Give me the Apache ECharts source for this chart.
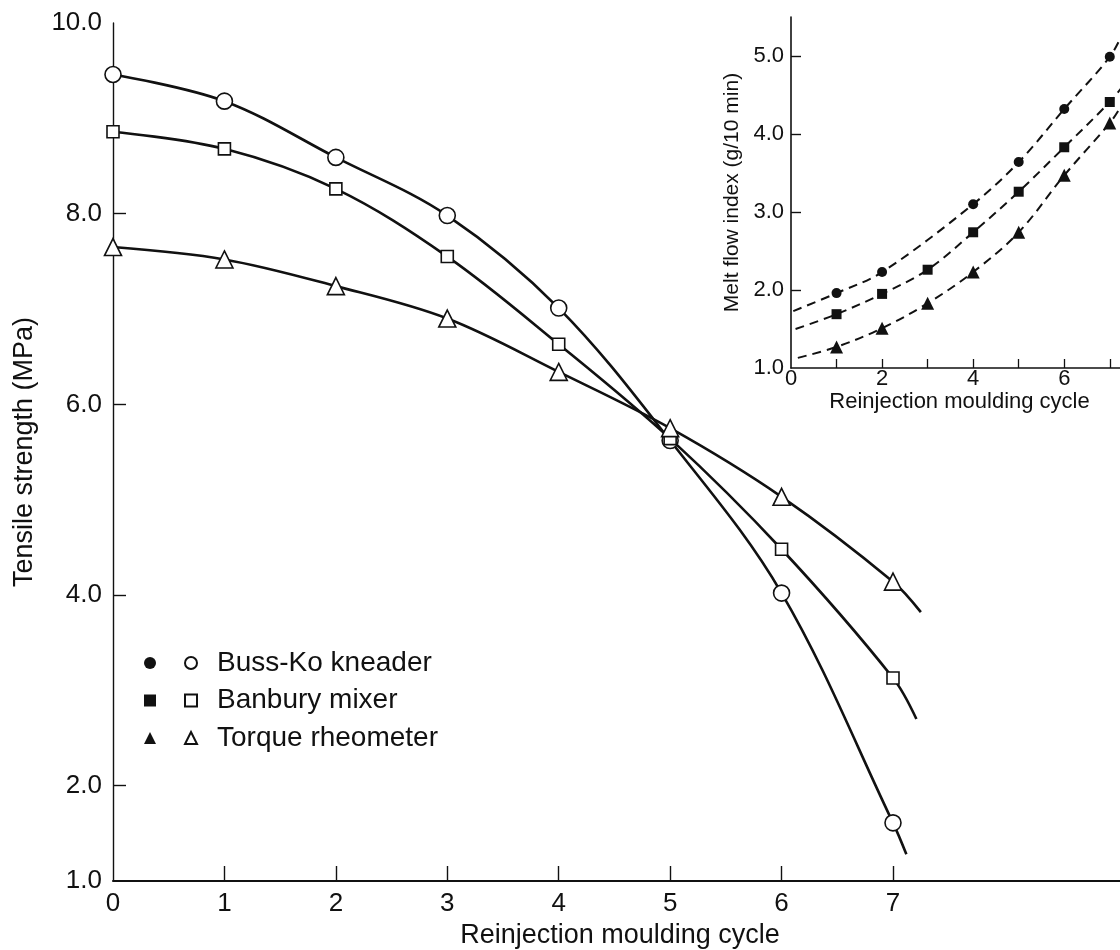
<!DOCTYPE html>
<html>
<head>
<meta charset="utf-8">
<title>Tensile strength and melt flow index vs reinjection cycle</title>
<script src="https://cdn.jsdelivr.net/npm/echarts@6.0.0/dist/echarts.min.js"></script>
<style>
  html, body { margin: 0; padding: 0; background: #fff; }
  #chart { width: 1120px; height: 950px; }
</style>
</head>
<body>
<div id="chart"></div>
<script>
// main plot: tensile strength (MPa) at each reinjection cycle
const cycles = [0, 1, 2, 3, 4, 5, 6, 7];
const bussTensile = [9.46, 9.18, 8.59, 7.98, 7.01, 5.62, 4.02, 1.61];
const banburyTensile = [8.86, 8.68, 8.26, 7.55, 6.63, 5.64, 4.48, 3.13];
const torqueTensile = [7.65, 7.52, 7.24, 6.90, 6.34, 5.75, 5.03, 4.14];
// where the drawn curves stop past cycle 7 (buss, banbury, torque)
const tensileEndX = [7.12, 7.21, 7.25];
const tensileEndY = [1.28, 2.70, 3.82];

// inset: melt flow index (g/10 min)
const bussMfiCycles = [1, 2, 4, 5, 6, 7];
const bussMfi = [1.96, 2.23, 3.10, 3.64, 4.32, 4.99];
const mfiCycles = [1, 2, 3, 4, 5, 6, 7];
const banburyMfi = [1.69, 1.95, 2.26, 2.74, 3.26, 3.83, 4.41];
const torqueMfi = [1.27, 1.51, 1.83, 2.23, 2.74, 3.47, 4.14];
// ends of the dashed fit curves (buss, banbury, torque)
const mfiStartX = [0.05, 0.1, 0.15];
const mfiStartY = [1.73, 1.50, 1.13];
const mfiEndX = [7.29, 7.24, 7.2];
const mfiEndY = [5.3, 4.58, 4.31];

// tick labels
const mainXLabels = [0, 1, 2, 3, 4, 5, 6, 7];
const mainYLabels = [1, 2, 4, 6, 8, 10];
const insetXLabels = [0, 2, 4, 6];
const insetYLabels = [1, 2, 3, 4, 5];

const names = ['Buss-Ko kneader', 'Banbury mixer', 'Torque rheometer'];
const mfiNames = names.map(n => n + ' MFI');

const INK = '#111';
const FONT = "'Liberation Sans', Arial, sans-serif";

function pairs(xs, ys) {
  return xs.map((x, i) => [x, ys[i]]);
}

const chart = echarts.init(document.getElementById('chart'), null, { renderer: 'canvas' });

const tensileSets = [bussTensile, banburyTensile, torqueTensile];
const mfiSets = [
  pairs(bussMfiCycles, bussMfi),
  pairs(mfiCycles, banburyMfi),
  pairs(mfiCycles, torqueMfi)
];
const symbols = ['circle', 'rect', 'triangle'];
const hollowSizes = [16, 12, 17];
const filledSizes = [10, 10, 13];

const series = [];

tensileSets.forEach((vals, i) => {
  series.push({
    type: 'line',
    xAxisIndex: 0,
    yAxisIndex: 0,
    data: pairs(cycles, vals).concat([[tensileEndX[i], tensileEndY[i]]]),
    smooth: 0.35,
    symbol: 'none',
    lineStyle: { color: INK, width: 2.6 },
    z: 2,
    silent: true
  });
});

tensileSets.forEach((vals, i) => {
  series.push({
    type: 'scatter',
    name: names[i],
    xAxisIndex: 0,
    yAxisIndex: 0,
    data: pairs(cycles, vals),
    symbol: symbols[i],
    symbolSize: hollowSizes[i],
    itemStyle: { color: '#fff', borderColor: INK, borderWidth: 1.6, opacity: 1 },
    z: 4
  });
});

mfiSets.forEach((pts, i) => {
  series.push({
    type: 'line',
    xAxisIndex: 1,
    yAxisIndex: 1,
    data: [[mfiStartX[i], mfiStartY[i]]].concat(pts, [[mfiEndX[i], mfiEndY[i]]]),
    smooth: 0.35,
    symbol: 'none',
    lineStyle: { color: INK, width: 2, type: [9, 6] },
    z: 2,
    silent: true
  });
});

mfiSets.forEach((pts, i) => {
  series.push({
    type: 'scatter',
    name: mfiNames[i],
    xAxisIndex: 1,
    yAxisIndex: 1,
    data: pts,
    symbol: symbols[i],
    symbolSize: filledSizes[i],
    itemStyle: { color: INK, opacity: 1 },
    z: 4
  });
});

const legendText = { fontFamily: FONT, fontSize: 28, color: INK, lineHeight: 30 };

chart.setOption({
  animation: false,
  backgroundColor: '#fff',
  textStyle: { fontFamily: FONT, color: INK },
  legend: [
    {
      data: mfiNames,
      orient: 'vertical',
      left: 139,
      top: 643,
      itemWidth: 12,
      itemHeight: 12,
      itemGap: 7.5,
      formatter: () => ' ',
      textStyle: legendText,
      selectedMode: false
    },
    {
      data: names,
      orient: 'vertical',
      left: 179,
      top: 643,
      itemWidth: 12,
      itemHeight: 12,
      itemGap: 7.5,
      textStyle: Object.assign({ padding: [0, 0, 0, 15] }, legendText),
      selectedMode: false
    }
  ],
  grid: [
    { left: 113, top: 23, width: 1014, height: 858, containLabel: false, outerBoundsMode: 'none' },
    { left: 791, top: 17, width: 337, height: 351, containLabel: false, outerBoundsMode: 'none' }
  ],
  xAxis: [
    {
      gridIndex: 0,
      type: 'value',
      min: 0,
      max: 9.1,
      splitLine: { show: false },
      axisLine: { lineStyle: { color: INK, width: 2 } },
      axisTick: {
        inside: true, length: 15,
        customValues: [1, 2, 3, 4, 5, 6, 7],
        lineStyle: { color: INK, width: 1.4 }
      },
      axisLabel: {
        customValues: mainXLabels,
        margin: 10,
        fontSize: 26,
        color: INK,
        fontFamily: FONT
      },
      name: 'Reinjection moulding cycle',
      nameLocation: 'middle',
      nameGap: 41,
      nameTextStyle: { fontSize: 27, color: INK, fontFamily: FONT, align: 'center' }
    },
    {
      gridIndex: 1,
      type: 'value',
      min: 0,
      max: 7.4,
      splitLine: { show: false },
      axisLine: { lineStyle: { color: INK, width: 1.6 } },
      axisTick: {
        inside: true, length: 9,
        customValues: [1, 2, 3, 4, 5, 6, 7],
        lineStyle: { color: INK, width: 1.3 }
      },
      axisLabel: {
        customValues: insetXLabels,
        margin: 0,
        fontSize: 22,
        color: INK,
        fontFamily: FONT
      },
      name: 'Reinjection moulding cycle',
      nameLocation: 'middle',
      nameGap: 14,
      nameTextStyle: { fontSize: 22, color: INK, fontFamily: FONT }
    }
  ],
  yAxis: [
    {
      gridIndex: 0,
      type: 'value',
      min: 1,
      max: 10,
      splitLine: { show: false },
      axisLine: { show: true, lineStyle: { color: INK, width: 1.4 } },
      axisTick: {
        show: true, inside: true, length: 13,
        customValues: [2, 4, 6, 8],
        lineStyle: { color: INK, width: 1.4 }
      },
      axisLabel: {
        customValues: mainYLabels,
        formatter: v => v.toFixed(1),
        margin: 11,
        fontSize: 26,
        color: INK,
        fontFamily: FONT
      },
      name: 'Tensile strength (MPa)',
      nameLocation: 'middle',
      nameGap: 75,
      nameTextStyle: { fontSize: 27, color: INK, fontFamily: FONT }
    },
    {
      gridIndex: 1,
      type: 'value',
      min: 1,
      max: 5.5,
      splitLine: { show: false },
      axisLine: { show: true, lineStyle: { color: INK, width: 1.6 } },
      axisTick: {
        show: true, inside: true, length: 10,
        customValues: [2, 3, 4, 5],
        lineStyle: { color: INK, width: 1.4 }
      },
      axisLabel: {
        customValues: insetYLabels,
        formatter: v => v.toFixed(1),
        margin: 7,
        fontSize: 22,
        color: INK,
        fontFamily: FONT
      },
      name: 'Melt flow index (g/10 min)',
      nameLocation: 'middle',
      nameGap: 48,
      nameTextStyle: { fontSize: 21, color: INK, fontFamily: FONT }
    }
  ],
  series: series
});
</script>
</body>
</html>
